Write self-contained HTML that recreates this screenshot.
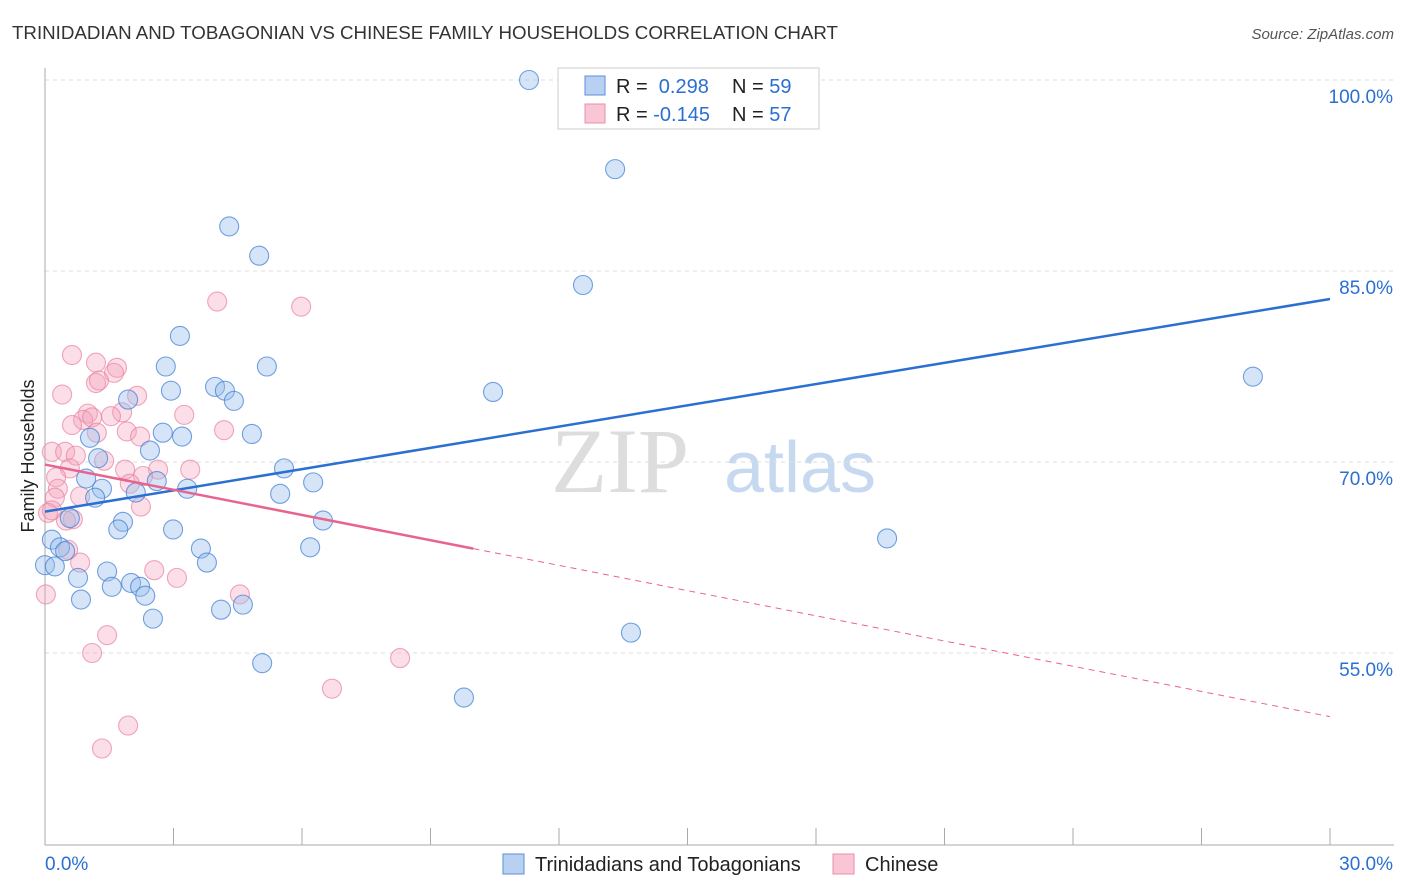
<!DOCTYPE html>
<html><head><meta charset="utf-8"><style>
body{margin:0;background:#fff;font-family:"Liberation Sans",sans-serif}
svg{display:block}
</style></head><body>
<svg id="chart" width="1406" height="892">
<text x="12" y="39" font-size="18" fill="#333" textLength="826" lengthAdjust="spacingAndGlyphs">TRINIDADIAN AND TOBAGONIAN VS CHINESE FAMILY HOUSEHOLDS CORRELATION CHART</text>
<text x="1394" y="39" font-size="15" fill="#555" font-style="italic" text-anchor="end">Source: ZipAtlas.com</text>
<text x="620" y="492" font-size="92" fill="#ddd" font-family="Liberation Serif,serif" text-anchor="middle">ZIP</text>
<text x="800" y="492" font-size="72" fill="#c7d9f0" text-anchor="middle">atlas</text>
<text transform="translate(34,456) rotate(-90)" font-size="18" fill="#222" text-anchor="middle">Family Households</text>
<g id="grid"></g><g id="pts"></g><g id="lines"></g>
<g>
<rect x="558" y="68" width="261" height="61" fill="#fff" stroke="#ccc"/>
<rect x="585" y="76" width="20" height="19" fill="#b8d1f3" stroke="#5b8fd9"/>
<rect x="585" y="104" width="20" height="19" fill="#f9c6d6" stroke="#e98fab"/>
<text x="616" y="93" font-size="20" fill="#222">R = <tspan fill="#2a6fd1">&#160;0.298</tspan><tspan x="732">N = </tspan><tspan fill="#2a6fd1">59</tspan></text>
<text x="616" y="121" font-size="20" fill="#222">R = <tspan fill="#2a6fd1">-0.145</tspan><tspan x="732">N = </tspan><tspan fill="#2a6fd1">57</tspan></text>
</g>
<g>
<rect x="503" y="854" width="21" height="20" fill="#b8d1f3" stroke="#5b8fd9"/>
<text x="535" y="871" font-size="20" fill="#222">Trinidadians and Tobagonians</text>
<rect x="833" y="854" width="21" height="20" fill="#f9c6d6" stroke="#e98fab"/>
<text x="865" y="871" font-size="20" fill="#222">Chinese</text>
</g>
</svg>
<script>
const yTicks=[100,85,70,55];
const xTickLabels=["0.0%","30.0%"];
const blueX=[11.30,13.31,4.30,5.00,12.56,3.15,2.82,5.18,28.20,2.94,3.97,4.20,10.46,4.41,1.94,1.05,2.75,3.20,4.83,2.45,1.24,5.58,0.96,6.26,2.61,1.33,3.32,2.12,1.17,5.49,6.49,0.58,1.82,1.71,2.99,0.16,0.35,0.47,3.64,6.19,19.66,0.0,0.23,3.78,1.45,0.77,2.01,2.22,1.56,2.34,0.84,4.62,4.11,2.52,13.68,5.07,9.78];
const blueY=[100.0,93.0,88.5,86.2,83.9,79.9,77.5,77.5,76.7,75.6,75.9,75.6,75.5,74.8,74.9,71.9,72.3,72.0,72.2,70.9,70.3,69.5,68.7,68.4,68.5,67.9,67.9,67.6,67.2,67.5,65.4,65.6,65.3,64.7,64.7,63.9,63.3,63.0,63.2,63.3,64.0,61.9,61.8,62.1,61.4,60.9,60.5,60.2,60.2,59.5,59.2,58.8,58.4,57.7,56.6,54.2,51.5];
const pinkX=[4.02,5.98,0.63,1.19,1.68,1.61,1.19,1.26,0.40,2.15,1.80,1.00,1.54,3.25,0.89,1.10,0.63,1.21,1.91,2.22,4.18,0.16,0.47,0.72,1.38,0.58,1.87,2.64,3.39,0.26,2.29,0.30,1.98,0.23,0.82,2.24,0.07,0.16,0.65,0.49,0.54,0.82,2.55,3.08,0.02,4.55,1.45,1.10,8.29,6.70,1.94,1.33];
const pinkY=[82.6,82.2,78.4,77.8,77.4,77.0,76.2,76.4,75.3,75.2,73.9,73.8,73.6,73.7,73.3,73.5,72.9,72.3,72.4,72.0,72.5,70.8,70.8,70.5,70.1,69.5,69.4,69.4,69.4,68.8,68.9,67.9,68.3,67.2,67.3,66.5,66.0,66.2,65.5,65.4,63.1,62.1,61.5,60.9,59.6,59.6,56.4,55.0,54.6,52.2,49.3,47.5];
const blueTrend=[66.1,82.8];
const pinkTrend=[69.8,50.0];
const pinkSolidEnd=10;
const X=v=>45+v/30*1285, Y=v=>80+(100-v)*191/15;
const NS="http://www.w3.org/2000/svg";
function mk(t,a,p){const e=document.createElementNS(NS,t);for(const k in a)e.setAttribute(k,a[k]);p.appendChild(e);return e;}
const g=document.getElementById('grid');
yTicks.forEach(v=>{
 const l=mk('line',{x1:45,x2:1394,y1:Y(v),y2:Y(v),stroke:'#ddd','stroke-dasharray':'4,4'},g);
 
 
 const t=mk('text',{x:1393,y:Y(v)+23,'font-size':19,fill:'#2a6fd1','text-anchor':'end'},g);t.textContent=v.toFixed(1)+'%';
 
 
});
const ax=mk('line',{x1:45,x2:45,y1:68,y2:845,stroke:'#aaa'},g);


const bx=mk('line',{x1:45,x2:1394,y1:845,y2:845,stroke:'#aaa'},g);


for(let i=0;i<=10;i++){const tk=mk('line',{x1:X(i*3),x2:X(i*3),y1:828,y2:845,stroke:'#aaa'},g);
 
 }
[[0,'start',45],[30,'end',1393]].forEach((d,i)=>{const t=mk('text',{x:d[2],y:870,'font-size':19,fill:'#2a6fd1','text-anchor':d[1]},g);t.textContent=xTickLabels[i];
 
 });
const p=document.getElementById('pts');
pinkX.forEach((v,i)=>{const c=mk('circle',{cx:X(v),cy:Y(pinkY[i]),r:9.5,fill:'rgba(244,160,186,0.35)',stroke:'rgba(232,130,160,0.7)','stroke-width':1.1},p);
 
 });
blueX.forEach((v,i)=>{const c=mk('circle',{cx:X(v),cy:Y(blueY[i]),r:9.5,fill:'rgba(150,190,236,0.4)',stroke:'rgba(70,130,215,0.75)','stroke-width':1.1},p);
 
 });
const L=document.getElementById('lines');
const bl=mk('line',{x1:X(0),y1:Y(blueTrend[0]),x2:X(30),y2:Y(blueTrend[1]),stroke:'#2a6fd1','stroke-width':2.5},L);


const pm=pinkTrend[0]+(pinkTrend[1]-pinkTrend[0])*pinkSolidEnd/30;
const pl=mk('line',{x1:X(0),y1:Y(pinkTrend[0]),x2:X(pinkSolidEnd),y2:Y(pm),stroke:'#e8648f','stroke-width':2.5},L);


const pd=mk('line',{x1:X(pinkSolidEnd),y1:Y(pm),x2:X(30),y2:Y(pinkTrend[1]),stroke:'#e8648f','stroke-width':1,'stroke-dasharray':'6,5'},L);


</script>
</body></html>
